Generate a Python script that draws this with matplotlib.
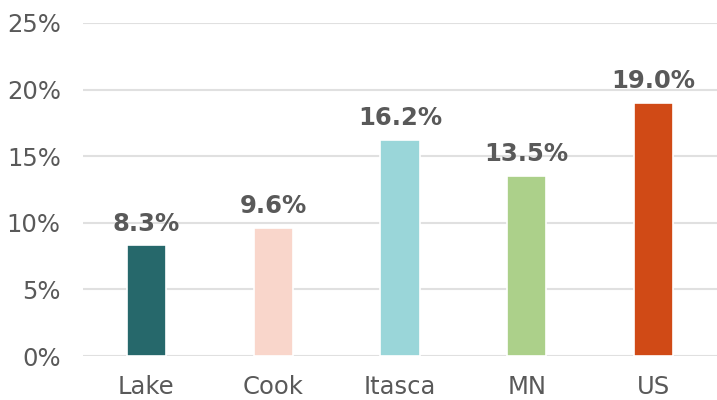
import matplotlib.pyplot as plt
from matplotlib.ticker import FuncFormatter

# Data
categories = ["Lake", "Cook", "Itasca", "MN", "US"]
values = [8.3, 9.6, 16.2, 13.5, 19.0]
colors = ["#26686b", "#f9d6cb", "#9ad6d9", "#acd08a", "#d04a16"]

text_color = "#595959"

fig = plt.figure(figsize=(7.17, 4.0), dpi=100)
ax = fig.add_axes([83 / 717, 0.11, 1 - 83 / 717, 0.8325])

x = range(len(categories))
bars = ax.bar(x, values, width=0.31, color=colors, edgecolor="white",
              linewidth=1.2, zorder=3)

for b, v in zip(bars, values):
    ax.annotate(f"{v:.1f}%", (b.get_x() + b.get_width() / 2, v),
                xytext=(0, 7), textcoords="offset points",
                ha="center", va="bottom", fontsize=17.5, fontweight="bold",
                color=text_color)

ax.set_xlim(-0.5, len(categories) - 0.5)
ax.set_ylim(0, 25)
ax.set_yticks(range(0, 26, 5))
ax.yaxis.set_major_formatter(FuncFormatter(lambda v, p: f"{v:.0f}%"))
ax.set_xticks(list(x))
ax.set_xticklabels(categories)

ax.grid(axis="y", color="#e0e0e0", linewidth=1.5, zorder=0)
for s in ax.spines.values():
    s.set_visible(False)
ax.tick_params(axis="both", length=0, labelsize=17.5, colors=text_color)
ax.tick_params(axis="y", pad=16)
ax.tick_params(axis="x", pad=14)

fig.savefig("out.png", dpi=100)
